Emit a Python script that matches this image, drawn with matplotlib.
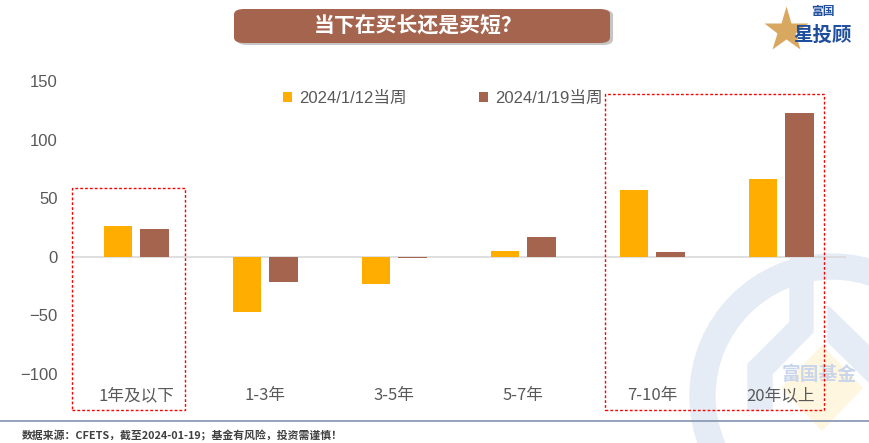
import numpy as np
import matplotlib.pyplot as plt
from matplotlib.patches import FancyBboxPatch, Rectangle, Wedge, Polygon

plt.rcParams['font.family'] = ['Liberation Sans', 'Noto Sans CJK SC', 'DejaVu Sans']

categories = ['1年及以下', '1-3年', '3-5年', '5-7年', '7-10年', '20年以上']
week_0112 = [26, -47, -23, 4.5, 57, 66]
week_0119 = [24, -22, -1.5, 17, 4.3, 123]
series_labels = ['2024/1/12当周', '2024/1/19当周']
yticks = [-100, -50, 0, 50, 100, 150]

ORANGE = '#FFAE00'
BROWN = '#A5644E'
GREY = '#595959'
CJK = ['Noto Sans CJK SC']

W, H = 869, 443
fig = plt.figure(figsize=(W / 100, H / 100), dpi=100)

def fx(px):
    return px / W

def fy(py):
    return 1 - py / H

# watermark + logo layer (behind the axes)
wm = fig.add_axes([0, 0, 1, 1], zorder=0)
wm.set_xlim(0, W)
wm.set_ylim(H, 0)
wm.axis('off')
wm_col = '#E6ECF6'
wm.add_patch(Wedge((832, 396), 142, 0, 360, width=25, color=wm_col))
wm.add_patch(Polygon([[790, 256], [813, 256], [813, 332], [772, 374], [772, 410],
                      [748, 410], [748, 364], [790, 322]], color=wm_col))
wm.add_patch(Polygon([[828, 306], [869, 346], [869, 382], [828, 342]], color=wm_col))
wm.add_patch(Polygon([[822, 346], [862, 388], [822, 430], [782, 388]], color='#FFF6E0'))
wm.text(819, 375, '富国基金', fontsize=13.5, fontweight='bold', color='#C8D5EA',
        ha='center', va='center', family=CJK)
wm.plot([786], [30], marker='*', markersize=34, color='#D8A860', mec='none')

ax = fig.add_axes([fx(71.5), fy(383), fx(845.5) - fx(71.5), fy(75.3) - fy(383)], zorder=1)
ax.patch.set_alpha(0)

x = np.arange(len(categories))
bw = 0.218
ax.bar(x - 0.14, week_0112, bw, color=ORANGE, label=series_labels[0], zorder=3)
ax.bar(x + 0.143, week_0119, bw, color=BROWN, label=series_labels[1], zorder=3)
ax.axhline(0, color='#D9D9D9', lw=1.2, zorder=2)

ax.set_xlim(-0.5, len(categories) - 0.5)
ax.set_ylim(-108, 155)
ax.set_yticks(yticks)
ax.set_yticklabels([str(v).replace('-', '\u2212') for v in yticks])
ax.set_xticks(x)
ax.set_xticklabels(categories, family=CJK)
ax.tick_params(axis='both', length=0, labelsize=12, labelcolor=GREY)
ax.tick_params(axis='x', pad=3)
ax.tick_params(axis='y', pad=10)
for s in ax.spines.values():
    s.set_visible(False)

leg = ax.legend(loc='upper center', bbox_to_anchor=(0.48, 1.0), ncol=2, frameon=False,
                fontsize=12, handlelength=0.55, handleheight=0.55, handletextpad=0.45,
                columnspacing=4.3, labelcolor=GREY)

# red dashed highlight boxes
for (x0, y0, x1, y1) in [(72, 188, 185, 410), (605, 94, 824, 410)]:
    fig.patches.append(Rectangle((fx(x0), fy(y1)), fx(x1) - fx(x0), fy(y0) - fy(y1),
                                 transform=fig.transFigure, fill=False,
                                 edgecolor='#FF0000', lw=1, ls=(0, (2, 1.5)), zorder=5))

# title banner
fig.patches.append(FancyBboxPatch((fx(237), fy(45)), fx(376), fy(8) - fy(45) - 0.004,
                                  boxstyle='round,pad=0,rounding_size=0.012',
                                  transform=fig.transFigure, facecolor='#8C8C8C',
                                  edgecolor='none', alpha=0.5, zorder=4))
fig.patches.append(FancyBboxPatch((fx(234), fy(43)), fx(376), fy(9) - fy(43),
                                  boxstyle='round,pad=0,rounding_size=0.012',
                                  transform=fig.transFigure, facecolor=BROWN,
                                  edgecolor='none', zorder=5))
fig.text(fx(418), fy(26), '当下在买长还是买短？', fontsize=15, fontweight=900,
         color='white', ha='center', va='center', zorder=6, family=CJK)

# logo top right
fig.text(fx(823), fy(11), '富国', fontsize=8.5, fontweight='bold', color='#1F4E9E',
         ha='center', va='center', family=CJK)
fig.text(fx(823), fy(35), '星投顾', fontsize=14, fontweight='bold', color='#1F4E9E',
         ha='center', va='center', family=CJK)

# footer
fig.add_artist(plt.Line2D([0, 1], [fy(421), fy(421)], transform=fig.transFigure,
                          color='#8495B0', lw=1.2))
fig.text(fx(22), fy(436), '数据来源：CFETS，截至2024-01-19；基金有风险，投资需谨慎！',
         fontsize=7.8, color='#404040', ha='left', va='center', fontweight='bold',
         family=CJK)

fig.savefig('out.png', dpi=100)
